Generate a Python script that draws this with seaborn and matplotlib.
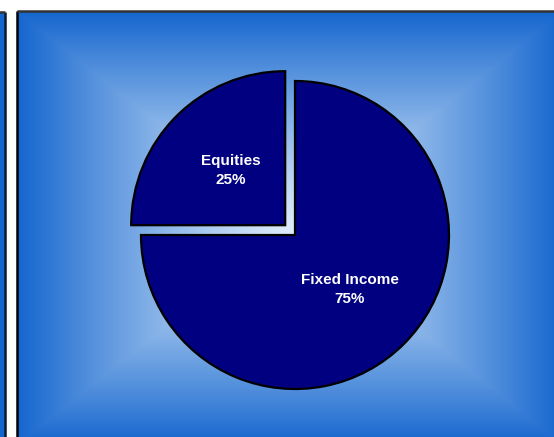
import numpy as np
import matplotlib
matplotlib.use("Agg")
import matplotlib.pyplot as plt
from matplotlib.patches import Rectangle
import seaborn as sns

sns.set_style("white")
plt.rcParams['font.family'] = ['Liberation Sans', 'DejaVu Sans']

# Data
categories = ["Equities", "Fixed Income"]
values = [25, 75]
explode = [0.09, 0.0]

W, H = 554, 437
fig = plt.figure(figsize=(W / 100, H / 100), dpi=100)
fig.patch.set_facecolor("white")

# Background axes in pixel coordinates
bg = fig.add_axes([0, 0, 1, 1])
bg.set_xlim(0, W)
bg.set_ylim(H, 0)
bg.axis("off")

# rectangular gradient panel
x0, x1, y0, y1 = 17, 563, 11, 445
cx, cy = (x0 + x1) / 2, (y0 + y1) / 2
xs = np.linspace(x0, x1, 600)
ys = np.linspace(y0, y1, 480)
X, Y = np.meshgrid(xs, ys)
t = np.maximum(np.abs(X - cx) / ((x1 - x0) / 2), np.abs(Y - cy) / ((y1 - y0) / 2))
t = np.clip(t, 0, 1) ** 1.2
c0 = np.array([0.86, 0.92, 0.98])
c1 = np.array([0.08, 0.40, 0.81])
img = c0[None, None, :] * (1 - t[..., None]) + c1[None, None, :] * t[..., None]
bg.imshow(img, extent=(x0, x1, y1, y0), aspect="auto", interpolation="bilinear", zorder=0)
bg.plot([x0, x0], [y1, y0], color="black", lw=1.8, zorder=2, solid_capstyle="butt")
bg.plot([x0, x1], [y0, y0], color="#333333", lw=1.8, zorder=2, solid_capstyle="butt")

# small left panel
bg.add_patch(Rectangle((-10, 12), 15.0, 440, facecolor="#1565cf", edgecolor="none", zorder=1))
bg.plot([5, 5], [12, H + 5], color="#0a1a30", lw=1.8, zorder=2, solid_capstyle="butt")
bg.plot([-5, 5], [12, 12], color="#333333", lw=1.8, zorder=2, solid_capstyle="butt")

# Pie axes
R = 154
pcx, pcy = 295, H - 235
half = 175
ax = fig.add_axes([(pcx - half) / W, (pcy - half) / H, 2 * half / W, 2 * half / H])
ax.set_facecolor("none")
wedges, texts, autotexts = ax.pie(
    values, explode=explode, startangle=90, counterclock=True,
    colors=["#000080", "#000080"],
    wedgeprops=dict(edgecolor="black", linewidth=1.6),
    autopct=lambda p: f"{p:.0f}%", pctdistance=0.5, radius=1.0,
)
for at, name, v in zip(autotexts, categories, values):
    at.set_text(f"{name}\n{v}%")
    at.set_color("white")
    at.set_fontsize(11)
    at.set_fontweight("bold")
    at.set_linespacing(1.45)
lim = half / R
ax.set_xlim(-lim, lim)
ax.set_ylim(-lim, lim)
ax.set_aspect("equal")
ax.axis("off")

fig.savefig("out.png", dpi=100, facecolor="white")
